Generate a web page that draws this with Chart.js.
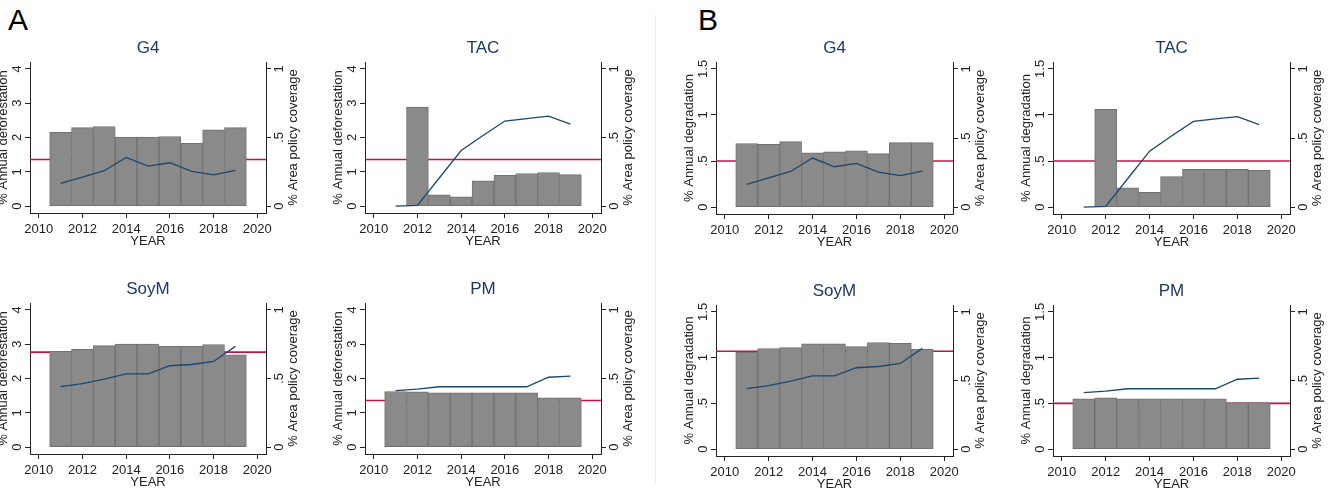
<!DOCTYPE html>
<html>
<head>
<meta charset="utf-8">
<script src="https://cdn.jsdelivr.net/npm/chart.js@4.4.1/dist/chart.umd.min.js"></script>
<style>
  body { margin: 0; background: #fff; }
  #page { position: relative; width: 1335px; height: 494px; overflow: hidden; background: #fff; }
  .panel { position: absolute; }
  .big { position: absolute; font-family: 'Liberation Sans', Arial, sans-serif; font-size: 30px; line-height: 30px; color: #000; }
  #sep { position: absolute; left: 655px; top: 15px; width: 1px; height: 470px; background: #e7eef0; }
</style>
</head>
<body>
<div id="page">
  <div class="big" style="left:8px; top:5px;">A</div>
  <div class="big" style="left:698px; top:5px;">B</div>
  <div id="sep"></div>
</div>
<script>
// years on the x axis
var years = [2011, 2012, 2013, 2014, 2015, 2016, 2017, 2018, 2019];
var xTicks = [2010, 2012, 2014, 2016, 2018, 2020];

// % annual deforestation (panel A)
var deforG4   = [2.15, 2.29, 2.32, 2.01, 2.01, 2.03, 1.83, 2.22, 2.29];
var deforTAC  = [null, 2.89, 0.33, 0.27, 0.74, 0.90, 0.95, 0.98, 0.92];
var deforSoyM = [2.79, 2.85, 2.96, 3.00, 3.00, 2.94, 2.94, 2.99, 2.69];
var deforPM   = [1.62, 1.61, 1.58, 1.58, 1.58, 1.58, 1.58, 1.44, 1.44];

// % annual degradation (panel B)
var degrG4   = [0.69, 0.68, 0.71, 0.59, 0.60, 0.61, 0.58, 0.70, 0.70];
var degrTAC  = [null, 1.06, 0.21, 0.16, 0.33, 0.41, 0.41, 0.41, 0.40];
var degrSoyM = [1.06, 1.10, 1.11, 1.15, 1.15, 1.12, 1.165, 1.155, 1.09];
var degrPM   = [0.55, 0.56, 0.55, 0.55, 0.55, 0.55, 0.55, 0.51, 0.51];

// % area policy coverage (right axis)
var covG4   = [0.165, 0.212, 0.258, 0.355, 0.292, 0.316, 0.253, 0.228, 0.26];
var covTAC  = [0, 0.005, 0.205, 0.405, 0.515, 0.62, 0.638, 0.655, 0.597];
var covSoyM = [0.441, 0.463, 0.495, 0.534, 0.534, 0.593, 0.602, 0.624, 0.734];
var covPM   = [0.411, 0.423, 0.44, 0.44, 0.44, 0.44, 0.44, 0.509, 0.518];

// reference (red) lines: G4, TAC, SoyM, PM
var refDefor = [1.36, 1.36, 2.77, 1.36];
var refDegr  = [0.5, 0.5, 1.07, 0.5];

var ticksDefor = [0, 1, 2, 3, 4];
var ticksDegr  = [0, 0.5, 1, 1.5];
var ticksCov   = [0, 0.5, 1];

var FONT = "'Liberation Sans', Arial, sans-serif";
var NAVY = '#1a476f';
var RED = '#c4143c';
var AXIS = '#222';

Chart.defaults.font.family = FONT;
Chart.defaults.font.size = 13;
Chart.defaults.color = AXIS;

// axis left, axis right, plot top, plot bottom (page pixels)
var panels = [
  { title: 'G4',   bars: deforG4,   cov: covG4,   ref: refDefor[0], kind: 'A', box: [30, 266, 62, 213] },
  { title: 'TAC',  bars: deforTAC,  cov: covTAC,  ref: refDefor[1], kind: 'A', box: [365, 601, 62, 213] },
  { title: 'SoyM', bars: deforSoyM, cov: covSoyM, ref: refDefor[2], kind: 'A', box: [30, 266, 303, 454] },
  { title: 'PM',   bars: deforPM,   cov: covPM,   ref: refDefor[3], kind: 'A', box: [365, 601, 303, 454] },
  { title: 'G4',   bars: degrG4,    cov: covG4,   ref: refDegr[0],  kind: 'B', box: [716, 953, 62, 214] },
  { title: 'TAC',  bars: degrTAC,   cov: covTAC,  ref: refDegr[1],  kind: 'B', box: [1053, 1290, 62, 214] },
  { title: 'SoyM', bars: degrSoyM,  cov: covSoyM, ref: refDegr[2],  kind: 'B', box: [716, 953, 305, 456] },
  { title: 'PM',   bars: degrPM,    cov: covPM,   ref: refDegr[3],  kind: 'B', box: [1053, 1290, 305, 456] }
];

var SIDE = 45, TOP = 45, BOTTOM = 40;

function fmt(v) {
  if (v === 0) return '0';
  return String(v).replace(/^0\./, '.');
}

function setTicks(list) {
  return function(scale) {
    scale.ticks = list.map(function(v) { return { value: v }; });
  };
}

// red horizontal line behind the bars
var refLine = {
  id: 'refLine',
  beforeDatasetsDraw: function(chart, args, opts) {
    var a = chart.chartArea;
    var py = chart.scales.y.getPixelForValue(opts.value);
    var ctx = chart.ctx;
    ctx.save();
    ctx.strokeStyle = RED;
    ctx.lineWidth = 1.6;
    ctx.beginPath();
    ctx.moveTo(a.left, py);
    ctx.lineTo(a.right, py);
    ctx.stroke();
    ctx.restore();
  }
};

// right axis title reads bottom to top, like the left one
var rightTitle = {
  id: 'rightTitle',
  afterDraw: function(chart, args, opts) {
    var s = chart.scales.y1;
    var a = chart.chartArea;
    var ctx = chart.ctx;
    ctx.save();
    ctx.translate(s.left + 27.5, (a.top + a.bottom) / 2);
    ctx.rotate(-Math.PI / 2);
    ctx.font = '13px ' + FONT;
    ctx.fillStyle = AXIS;
    ctx.textAlign = 'center';
    ctx.textBaseline = 'middle';
    ctx.fillText(opts.text, 0, 0);
    ctx.restore();
  }
};

panels.forEach(function(p, i) {
  var L = p.box[0], R = p.box[1], T = p.box[2], B = p.box[3];
  var w = R - L + 2 * SIDE, h = B - T + TOP + BOTTOM;
  var holder = document.createElement('div');
  holder.className = 'panel';
  holder.style.left = (L - SIDE) + 'px';
  holder.style.top = (T - TOP) + 'px';
  var cv = document.createElement('canvas');
  cv.width = w; cv.height = h;
  cv.style.width = w + 'px'; cv.style.height = h + 'px';
  holder.appendChild(cv);
  document.getElementById('page').appendChild(holder);

  var isA = p.kind === 'A';
  var yTicks = isA ? ticksDefor : ticksDegr;
  var yMin = isA ? -0.2 : -0.075, yMax = isA ? 4.2 : 1.575;
  var leftPad = isA ? 4.4 : -1;

  var barData = years.map(function(y, k) { return { x: y, y: p.bars[k] }; });
  var covData = years.map(function(y, k) { return { x: y, y: p.cov[k] }; });

  new Chart(cv.getContext('2d'), {
    type: 'bar',
    data: {
      datasets: [
        {
          type: 'line', data: covData, yAxisID: 'y1', order: 0,
          borderColor: NAVY, borderWidth: 1.3, pointRadius: 0, tension: 0, fill: false
        },
        {
          type: 'bar', data: barData, yAxisID: 'y', order: 1,
          backgroundColor: '#8a8a8a', borderColor: '#707070', borderWidth: 1,
          borderSkipped: false, barPercentage: 1, categoryPercentage: 1
        }
      ]
    },
    options: {
      responsive: false,
      animation: false,
      events: [],
      layout: { padding: 0 },
      plugins: {
        legend: { display: false },
        tooltip: { enabled: false },
        title: {
          display: true, text: p.title, color: '#1f3864',
          font: { size: 17, weight: 'normal', lineHeight: 1.2 },
          padding: { top: 21.3, bottom: 3.3 }
        },
        refLine: { value: p.ref },
        rightTitle: { text: '% Area policy coverage' }
      },
      scales: {
        x: {
          type: 'linear', min: 2009.6, max: 2020.4, offset: false,
          afterBuildTicks: setTicks(xTicks),
          afterFit: function(s) { s.height = BOTTOM; },
          grid: { display: true, drawOnChartArea: false, drawTicks: true, tickLength: 5, color: AXIS, offset: false },
          border: { display: true, color: AXIS, width: 1 },
          ticks: { padding: 3.5, maxRotation: 0, autoSkip: false, callback: function(v) { return String(v); } },
          title: { display: true, text: 'YEAR', font: { size: 13 }, padding: { top: 0, bottom: 3.5 } }
        },
        y: {
          type: 'linear', position: 'left', min: yMin, max: yMax,
          afterBuildTicks: setTicks(yTicks),
          afterFit: function(s) { s.width = SIDE; },
          grid: { display: true, drawOnChartArea: false, drawTicks: true, tickLength: 5, color: AXIS },
          border: { display: true, color: AXIS, width: 1 },
          ticks: { padding: leftPad, minRotation: 90, maxRotation: 90, crossAlign: 'center', callback: fmt },
          title: {
            display: true, text: isA ? '% Annual deforestation' : '% Annual degradation',
            font: { size: 13 }, padding: { top: 10.2, bottom: 0 }
          }
        },
        y1: {
          type: 'linear', position: 'right', min: -0.05, max: 1.05,
          afterBuildTicks: setTicks(ticksCov),
          afterFit: function(s) { s.width = SIDE; },
          grid: { display: true, drawOnChartArea: false, drawTicks: true, tickLength: 5, color: AXIS },
          border: { display: true, color: AXIS, width: 1 },
          ticks: { padding: 2.6, minRotation: 90, maxRotation: 90, crossAlign: 'center', callback: fmt }
        }
      }
    },
    plugins: [refLine, rightTitle]
  });
});
</script>
</body>
</html>
